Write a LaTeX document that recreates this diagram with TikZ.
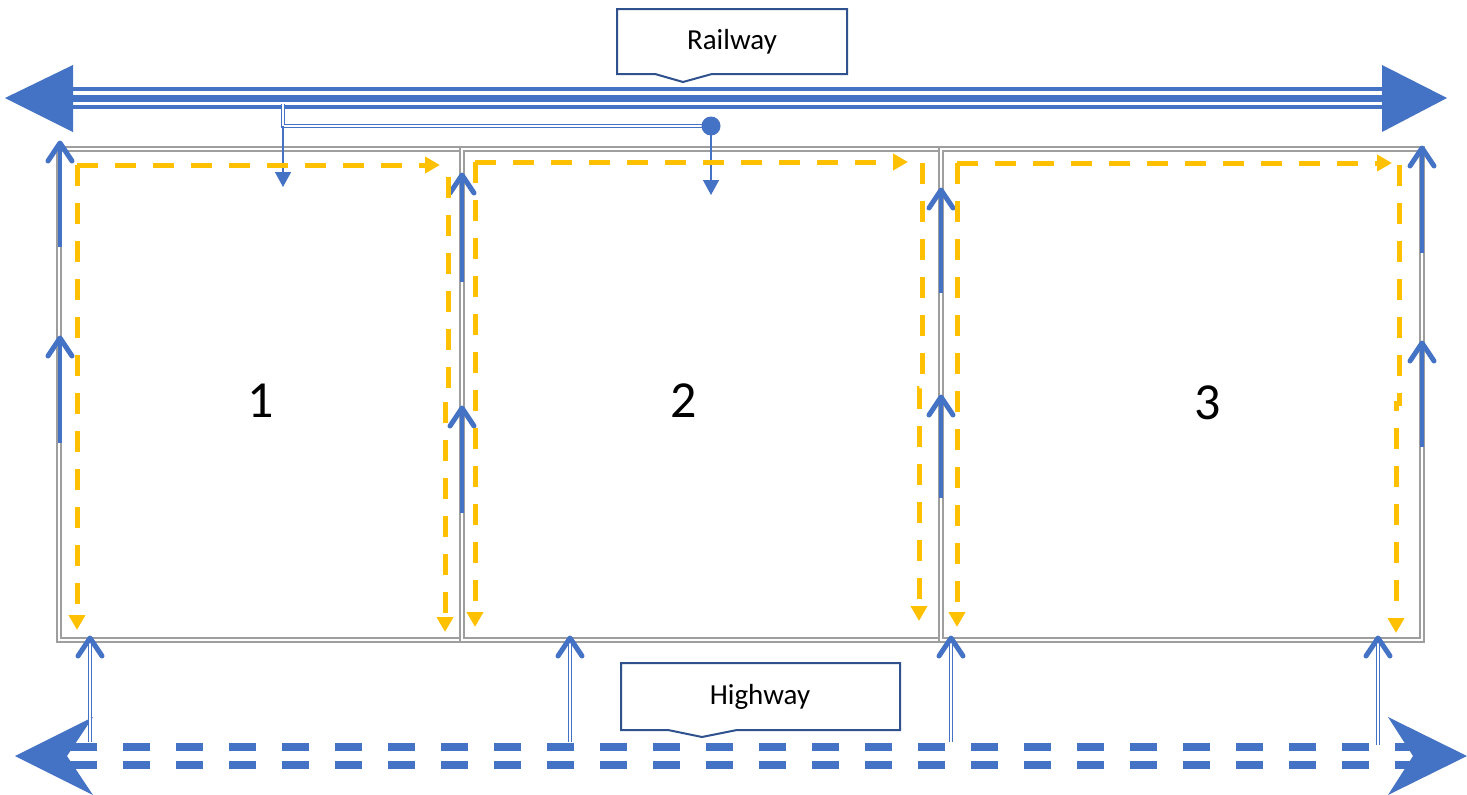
\documentclass[tikz,border=0pt]{standalone}
\usepackage{fontspec}
\setmainfont{Carlito}
\usetikzlibrary{arrows.meta}
\definecolor{roadblue}{HTML}{4472C4}
\definecolor{calloutblue}{HTML}{2F528F}
\definecolor{routeyellow}{HTML}{FFC000}

\begin{document}
\begin{tikzpicture}[
    x=1pt, y=-1pt,
    lotline/.style={draw=black!38, line width=1.8pt, double=white, double distance=2pt},
    railthin/.style={roadblue, line width=3.5pt},
    railthick/.style={roadblue, line width=7pt},
    hwdash/.style={roadblue, line width=8pt, dash pattern=on 27pt off 26pt},
    spur/.style={roadblue, line width=1.2pt, double=white, double distance=2pt},
    feed/.style={roadblue, line width=1.4pt, -{Triangle[length=15pt, width=16pt]}},
    access/.style={roadblue, line width=3.5pt},
    route/.style={routeyellow, line width=5pt, dash pattern=on 21pt off 17pt, -{Triangle[length=15pt, width=16pt]}},
    callout/.style={draw=calloutblue, line width=2pt, fill=white},
    chev/.pic={\draw[roadblue, line width=5pt, line cap=round, line join=round] (-12,18) -- (0,0) -- (12,18);},
    lotlabel/.style={font=\fontsize{52}{60}\selectfont},
    tag/.style={font=\fontsize{29}{34}\selectfont}
]
\useasboundingbox (0,0) rectangle (1467,795);

% Lots
\draw[lotline] (59,149) rectangle (462,640);
\draw[lotline] (462,149) rectangle (941,640);
\draw[lotline] (941,149) rectangle (1422,640);
\node[lotlabel] (lot1) at (261,401) {1};
\node[lotlabel] (lot2) at (684,401) {2};
\node[lotlabel] (lot3) at (1208,403) {3};

% Railway
\draw[railthin] (70,89) -- (1385,89);
\draw[railthick] (70,98) -- (1385,98);
\draw[railthin] (70,107) -- (1385,107);
\fill[roadblue] (5,98) -- (73,65) -- (73,132) -- cycle;
\fill[roadblue] (1447,98) -- (1382,65) -- (1382,132) -- cycle;
\coordinate (railA) at (283,104);
\coordinate (railB) at (711,126);
\draw[spur] (railA) |- (railB);
\fill[roadblue] (railB) circle (9.5);
\draw[feed] (283,126) -- (283,187);
\draw[feed] (railB) -- (711,195);
\draw[callout] (617,9) -- (847,9) -- (847,74) -- (712,74) -- (683,82) -- (655,74) -- (617,74) -- cycle;
\node[tag] (railway) at (732,42) {Railway};

% Highway
\draw[hwdash] (70,747) -- (1413,747);
\draw[hwdash] (70,765) -- (1413,765);
\fill[roadblue] (15,756) -- (93,717) -- (67,756) -- (93,795) -- cycle;
\fill[roadblue] (1467,756) -- (1388,717) -- (1413,756) -- (1388,795) -- cycle;
\draw[callout] (621,663) -- (900,663) -- (900,730) -- (737,730) -- (702,737) -- (668,730) -- (621,730) -- cycle;
\node[tag] (highway) at (760,697) {Highway};

% Access from highway
\foreach \x/\y in {90/742, 570/742, 951/742, 1378/745} {
    \draw[spur] (\x,\y) -- (\x,640);
    \pic at (\x,638) {chev};
}

% Access along lot lines
\foreach \x/\a/\b in {60/247/143, 60/443/338, 462/282/175, 462/513/408,
                      941/293/190, 941/498/397, 1422/253/148, 1422/447/343} {
    \draw[access] (\x,\a) -- (\x,\b+3);
    \pic at (\x,\b) {chev};
}

% Internal routes
\draw[route] (77,165) -- (440,165);
\draw[route] (77,165) -- (77,630);
\draw[route] (448,177) -- (448,400) -- (445,400) -- (445,632);
\draw[route] (475,162) -- (908,162);
\draw[route] (475,162) -- (475,627);
\draw[route] (922,163) -- (922,388) -- (919,388) -- (919,621);
\draw[route] (957,163) -- (1392,163);
\draw[route] (957,163) -- (957,627);
\draw[route] (1399,165) -- (1399,403) -- (1396,403) -- (1396,633);

\end{tikzpicture}
\end{document}
